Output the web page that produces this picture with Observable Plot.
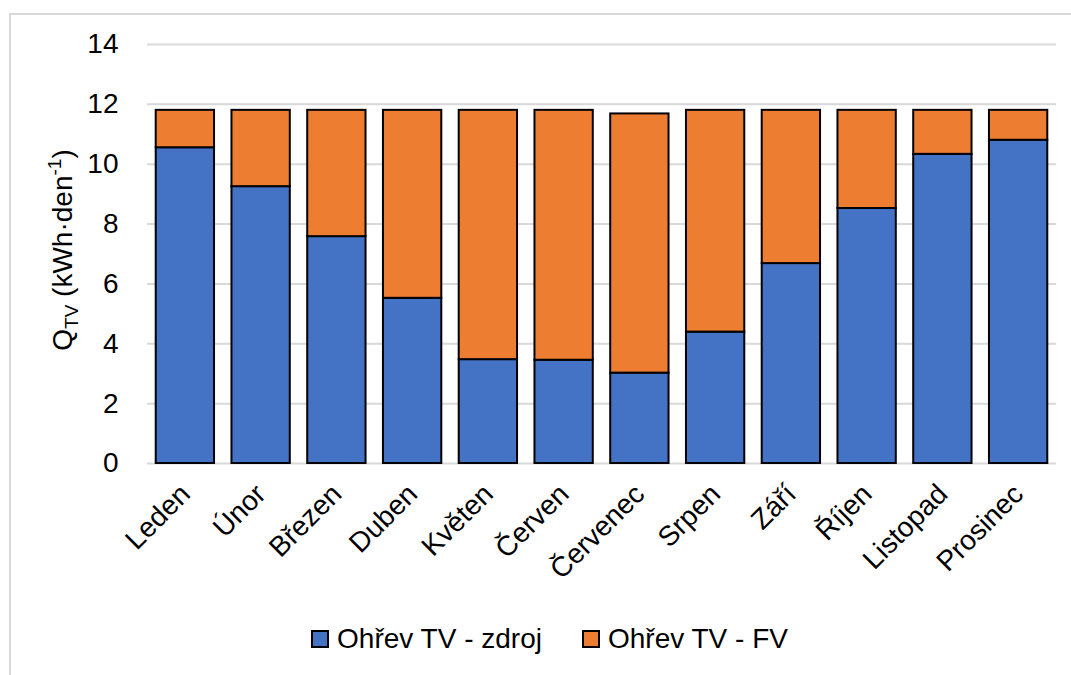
<!DOCTYPE html>
<html><head><meta charset="utf-8">
<script src="https://cdn.jsdelivr.net/npm/d3@7"></script>
<script src="https://cdn.jsdelivr.net/npm/@observablehq/plot@0.6"></script>
<style>
html,body{margin:0;padding:0;background:#fff;overflow:hidden;width:1071px;height:675px;}
#frame{position:absolute;left:9px;top:13px;width:1080px;height:700px;border:2px solid #d9d9d9;box-sizing:border-box;}
#chart{position:absolute;left:0;top:0;}
#chart svg text{font-size:28px;}
#legend{position:absolute;left:28px;top:622px;width:1043px;display:flex;justify-content:center;gap:40px;font-family:"Liberation Sans",Arial,sans-serif;font-size:28px;color:#000;line-height:34px;}
.item{display:flex;align-items:center;gap:8px;}
.sw{width:14px;height:14px;border:2px solid #000;}
</style></head>
<body>
<div id="frame"></div>
<div id="chart"></div>
<div id="legend"></div>
<script>
const months = ["Leden","Únor","Březen","Duben","Květen","Červen","Červenec","Srpen","Září","Říjen","Listopad","Prosinec"];
const zdroj = [10.55,9.25,7.58,5.52,3.47,3.45,3.02,4.39,6.68,8.52,10.33,10.8];
const total = [11.8,11.8,11.8,11.8,11.8,11.8,11.68,11.8,11.8,11.8,11.8,11.8];
const seriesNames = ["Ohřev TV - zdroj","Ohřev TV - FV"];
const colors = ["#4472C4","#ED7D31"];
const yTicks = [0,2,4,6,8,10,12,14];

const data = [];
months.forEach((m,i)=>{
  data.push({month:m, series:seriesNames[0], value:zdroj[i]});
  data.push({month:m, series:seriesNames[1], value:+(total[i]-zdroj[i]).toFixed(2)});
});

const chart = Plot.plot({
  width:1071, height:600,
  marginLeft:147, marginRight:15, marginTop:44, marginBottom:137,
  style:{fontFamily:"'Liberation Sans', Arial, sans-serif", fontSize:"28px", color:"#000", background:"transparent"},
  x:{domain:months, paddingInner:0.23, paddingOuter:0.115, round:false, label:null, tickSize:0, tickPadding:26, tickRotate:-45},
  y:{domain:[0,14], ticks:yTicks, label:null, tickSize:0, tickPadding:29, tickFormat:d=>d},
  color:{domain:seriesNames, range:colors},
  marks:[
    Plot.gridY(yTicks,{stroke:"#d9d9d9", strokeOpacity:1, strokeWidth:2}),
    Plot.barY(data,{x:"month", y:"value", fill:"series", stroke:"#000", strokeWidth:2, order:seriesNames})
  ]
});
document.getElementById("chart").appendChild(chart);

// y-axis title with subscript/superscript
const svg = d3.select(chart);
const t = svg.append("text")
  .attr("transform","translate(72,250) rotate(-90)")
  .attr("text-anchor","middle")
  .attr("font-family","'Liberation Sans', Arial, sans-serif")
  .attr("fill","#000");
t.append("tspan").text("Q");
t.append("tspan").style("font-size","19px").attr("dy","6").text("TV");
t.append("tspan").attr("dy","-6").text(" (kWh·den");
t.append("tspan").style("font-size","19px").attr("dy","-11").text("-1");
t.append("tspan").attr("dy","11").text(")");

const legend = d3.select("#legend");
seriesNames.forEach((s,i)=>{
  const it = legend.append("div").attr("class","item");
  it.append("div").attr("class","sw").style("background",colors[i]);
  it.append("span").text(s);
});
</script>
</body></html>
